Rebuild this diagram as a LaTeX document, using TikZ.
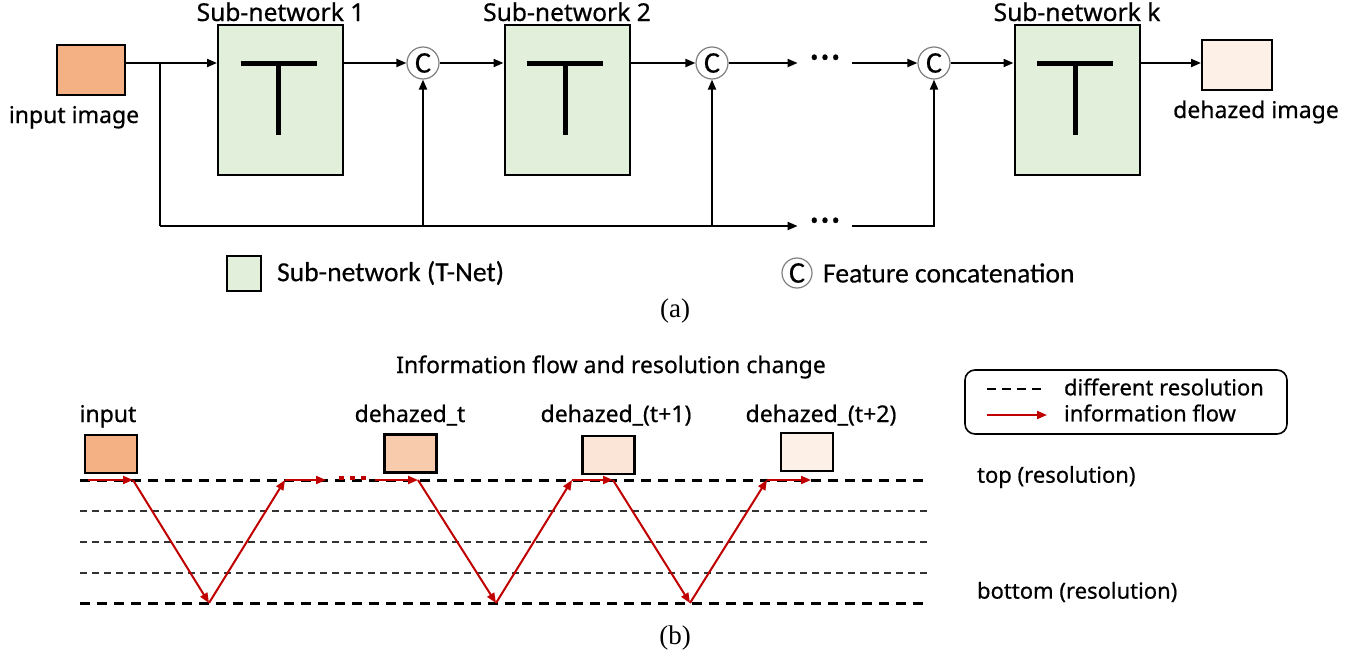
\documentclass[tikz,border=0pt]{standalone}
\usepackage{fontspec}
\setmainfont{Noto Sans}[FakeBold=0.6]
\newfontfamily\legendfont{Carlito}[FakeBold=0.4]
\newfontfamily\capfont{Liberation Serif}
\usepackage{xcolor}
\definecolor{net-green}{RGB}{226,239,218}
\definecolor{img-0}{RGB}{244,177,131}
\definecolor{img-1}{RGB}{248,203,173}
\definecolor{img-2}{RGB}{251,229,214}
\definecolor{img-3}{RGB}{253,240,231}
\definecolor{flow-red}{RGB}{192,0,0}
\usetikzlibrary{arrows.meta,positioning}

\begin{document}
\begin{tikzpicture}[
    x=0.5pt, y=-0.5pt,
    font=\fontsize{11.5}{13}\selectfont,
    subnet/.style={
        draw=black,
        line width=1pt,
        fill=net-green,
        minimum width=62.5pt,
        minimum height=75pt,
        inner sep=0pt
    },
    imgbox/.style={
        draw=black,
        line width=1pt,
        minimum width=34pt,
        minimum height=25pt,
        inner sep=0pt
    },
    smallimg/.style={
        draw=black,
        line width=1.2pt,
        minimum width=26pt,
        minimum height=19pt,
        inner sep=0pt
    },
    concat/.style={
        circle,
        draw=black!50,
        line width=0.6pt,
        fill=white,
        minimum size=16pt,
        inner sep=0pt,
        font=\legendfont\fontsize{15}{15}\selectfont
    },
    dots/.style={minimum width=27pt, inner sep=0pt, font=\fontsize{20}{20}\selectfont\bfseries},
    arrow/.style={-{Triangle[length=5pt,width=4pt]}, line width=1pt},
    wire/.style={line width=1pt},
    flow/.style={-{Triangle[length=5pt,width=4pt]}, line width=1pt, flow-red},
    level major/.style={dash pattern=on 5pt off 3.5pt, line width=1.5pt},
    level minor/.style={dash pattern=on 3.5pt off 2.5pt, line width=0.8pt, black!80},
    legend text/.style={anchor=west, font=\legendfont\fontsize{13.8}{15}\selectfont},
    side text/.style={anchor=west, font=\fontsize{11}{13}\selectfont},
    net title/.style={anchor=base, font=\fontsize{12.3}{14}\selectfont}
]
\useasboundingbox (0,0) rectangle (1364,664);

% (a) network
\node[imgbox, fill=img-0] (input) at (91,70) {};
\node[anchor=base] (inputlbl) at (74,123) {input image};

\node[subnet] (sn1) at (280.5,100) {};
\node[subnet] (sn2) at (567,100) {};
\node[subnet] (snk) at (1077,100) {};
\node[net title] at ([yshift=1.5pt]sn1.north) {Sub-network 1};
\node[net title] at ([yshift=1.5pt]sn2.north) {Sub-network 2};
\node[net title] at ([yshift=1.5pt]snk.north) {Sub-network k};

% the T of each sub-network
\foreach \s in {sn1,sn2,snk}{
    \draw[line width=2.5pt] ([xshift=-20pt,yshift=18.25pt]\s.center) -- ([xshift=18pt,yshift=18.25pt]\s.center);
    \draw[line width=2.5pt] ([xshift=-1pt,yshift=18.25pt]\s.center) -- ([xshift=-1pt,yshift=-17.5pt]\s.center);
}

\node[concat] (c1) at (423,63) {C};
\node[concat] (c2) at (712,63) {C};
\node[concat] (c3) at (934,63) {C};

\node[imgbox, fill=img-3, minimum width=35pt] (output) at (1237,65) {};
\node[anchor=base] (outputlbl) at (1256,118) {dehazed image};

\node[dots] (topdots) at (825,63) {···};
\node[dots] (botdots) at (825,226) {···};

\coordinate (split) at (160,63);
\coordinate (feed) at (160,226);

% main path
\draw[arrow] (input.east |- c1) -- (sn1.west |- c1);
\draw[arrow] (sn1.east |- c1) -- (c1);
\draw[arrow] (c1) -- (sn2.west |- c1);
\draw[arrow] (sn2.east |- c2) -- (c2);
\draw[arrow] (c2) -- (topdots);
\draw[arrow] (topdots) -- (c3);
\draw[arrow] (c3) -- (snk.west |- c3);
\draw[arrow] (snk.east |- c3) -- (output.west |- c3);

% skip path
\draw[wire] (split) -- (feed);
\draw[arrow] (feed) -- (botdots);
\draw[arrow] (c1 |- feed) -- (c1);
\draw[arrow] (c2 |- feed) -- (c2);
\draw[arrow] (botdots) -| (c3);

% legend (a)
\node[draw=black, line width=1pt, fill=net-green, minimum width=17pt, minimum height=17.5pt, inner sep=0pt] (keynet) at (244,273.5) {};
\node[legend text] (keynetlbl) at (270,273) {Sub-network (T-Net)};
\node[concat, minimum size=15pt] (keycat) at (797,273) {C};
\node[legend text] (keycatlbl) at (816,273) {Feature concatenation};
\node[font=\capfont\fontsize{13.5}{15}\selectfont] (capa) at (675,311) {(a)};

% (b) resolution levels
\node (title) at (611,367) {Information flow and resolution change};

\coordinate (lv0l) at (80,480);  \coordinate (lv0r) at (928,480);
\coordinate (lv1l) at (80,511);  \coordinate (lv1r) at (928,511);
\coordinate (lv2l) at (80,542);  \coordinate (lv2r) at (928,542);
\coordinate (lv3l) at (80,573);  \coordinate (lv3r) at (928,573);
\coordinate (lv4l) at (80,603);  \coordinate (lv4r) at (928,603);
\draw[level major] (lv0l) -- (lv0r);
\draw[level minor] (lv1l) -- (lv1r);
\draw[level minor] (lv2l) -- (lv2r);
\draw[level minor] (lv3l) -- (lv3r);
\draw[level major] (lv4l) -- (lv4r);

\node[smallimg, fill=img-0] (img0) at (111,454) {};
\node[smallimg, fill=img-1] (img1) at (410.5,453.5) {};
\node[smallimg, fill=img-2] (img2) at (608.5,455) {};
\node[smallimg, fill=img-3] (img3) at (807,452) {};
\node[anchor=base] at (108,422) {input};
\node[anchor=base] at (410,422) {dehazed\_t};
\node[anchor=base] at (616,422) {dehazed\_(t+1)};
\node[anchor=base] at (821,422) {dehazed\_(t+2)};

% information flow
\coordinate (f0) at (88,480);
\coordinate (f1) at (133,480);
\coordinate (f2) at (209,603);
\coordinate (f3) at (285,480);
\coordinate (f4) at (326,480);
\coordinate (g0) at (339,478);
\coordinate (g1) at (368,478);
\coordinate (f5) at (375,480);
\coordinate (f6) at (418,480);
\coordinate (f7) at (496,603);
\coordinate (f8) at (572,480);
\coordinate (f9) at (613,480);
\coordinate (f10) at (690,603);
\coordinate (f11) at (767,480);
\coordinate (f12) at (811,480);
\draw[flow] (f0) -- (f1);
\draw[flow] (f1) -- (f2);
\draw[flow] (f2) -- (f3);
\draw[flow] (f3) -- (f4);
\draw[flow-red, line width=2pt, dash pattern=on 2.5pt off 3pt] (g0) -- (g1);
\draw[flow] (f5) -- (f6);
\draw[flow] (f6) -- (f7);
\draw[flow] (f7) -- (f8);
\draw[flow] (f8) -- (f9);
\draw[flow] (f9) -- (f10);
\draw[flow] (f10) -- (f11);
\draw[flow] (f11) -- (f12);

% legend (b)
\node[draw=black, line width=0.8pt, rounded corners=5pt, minimum width=161pt, minimum height=32pt] (key) at (1126,402) {};
\coordinate (kd0) at (987,389); \coordinate (kd1) at (1042,389);
\coordinate (kf0) at (987,415); \coordinate (kf1) at (1047,415);
\draw[dash pattern=on 4.5pt off 3pt, line width=1.2pt] (kd0) -- (kd1);
\draw[flow] (kf0) -- (kf1);
\node[side text] (keydash) at (1057,387) {different resolution};
\node[side text] (keyflow) at (1057,413) {information flow};

\node[side text] (toplbl) at (970,477) {top (resolution)};
\node[side text] (botlbl) at (970,592) {bottom (resolution)};
\node[font=\capfont\fontsize{13.5}{15}\selectfont] (capb) at (675,638) {(b)};

\end{tikzpicture}
\end{document}
